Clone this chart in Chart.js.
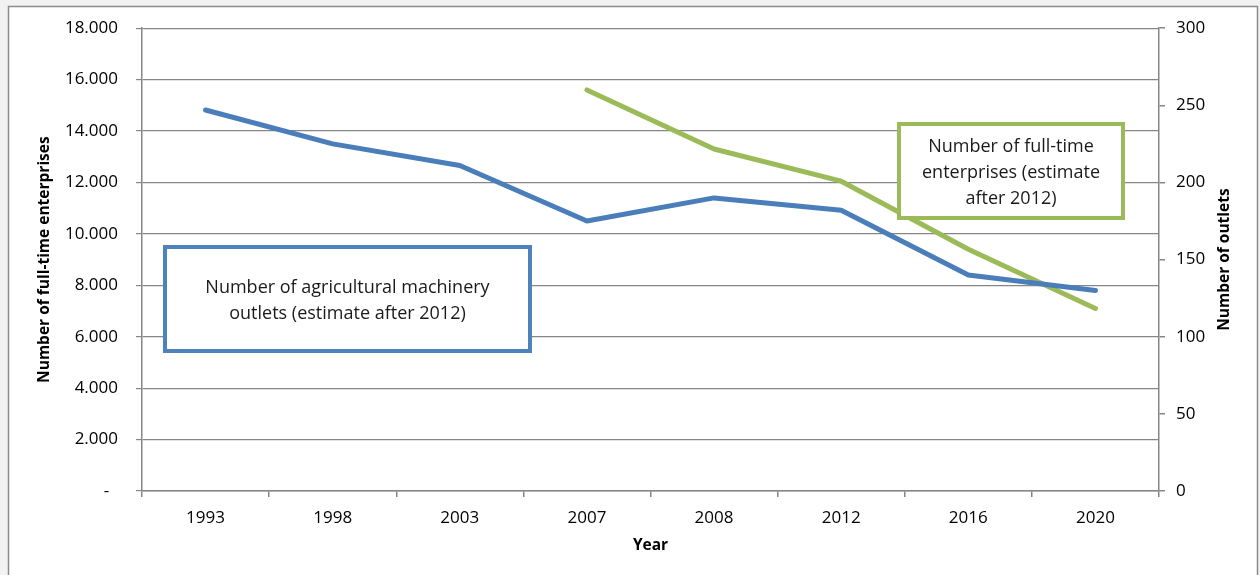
<!DOCTYPE html>
<html>
<head>
<meta charset="utf-8">
<script src="https://cdn.jsdelivr.net/npm/chart.js@4/dist/chart.umd.min.js"></script>
<style>
  html, body { margin: 0; padding: 0; background: #f2f2f2; }
  #wrap { position: relative; width: 1260px; height: 575px; }
</style>
</head>
<body>
<div id="wrap"><canvas id="dealerChart" width="1260" height="575"></canvas></div>
<script>
// Years on the category axis
const years = ['1993', '1998', '2003', '2007', '2008', '2012', '2016', '2020'];
// Agricultural machinery outlets (right axis)
const outlets = [247, 225, 211, 175, 190, 182, 140, 130];
// Full-time enterprises (left axis), series starts in 2007
const fullTimeEnterprises = [null, null, null, 15600, 13300, 12050, 9400, 7100];

const leftMax = 18000, leftStep = 2000;
const rightMax = 300, rightStep = 50;

const outletsNote = ['Number of agricultural machinery', 'outlets (estimate after 2012)'];
const enterprisesNote = ['Number of full-time', 'enterprises (estimate', 'after 2012)'];

const BLUE = '#4A7EBB';
const GREEN = '#9BBB59';
const AXIS_GRAY = '#868686';
const FONT = "'Open Sans', sans-serif";

Chart.defaults.font.family = FONT;
Chart.defaults.color = '#000';

// 18000 -> "18.000", zero shown as a dash like accounting format
function dotThousands(v) {
    if (v === 0) return '-  ';
    return String(v).replace(/\B(?=(\d{3})+(?!\d))/g, '.');
}

// frame around the whole chart
const frame = {
    id: 'frame',
    beforeDraw(chart) {
        const ctx = chart.ctx;
        ctx.save();
        ctx.fillStyle = '#ffffff';
        ctx.fillRect(8, 6, 1250, 575);
        ctx.strokeStyle = '#8c8c8c';
        ctx.lineWidth = 1.5;
        ctx.beginPath();
        ctx.moveTo(8.5, 580);
        ctx.lineTo(8.5, 6.5);
        ctx.lineTo(1257.5, 6.5);
        ctx.lineTo(1257.5, 580);
        ctx.stroke();
        ctx.restore();
    }
};

// axis titles (both vertical ones read bottom to top)
const axisTitles = {
    id: 'axisTitles',
    afterDraw(chart) {
        const ctx = chart.ctx;
        const area = chart.chartArea;
        const midY = (area.top + area.bottom) / 2;
        ctx.save();
        ctx.fillStyle = '#000';
        ctx.font = `bold 15.5px ${FONT}`;
        ctx.textAlign = 'center';
        ctx.textBaseline = 'middle';
        [[45, 'Number of full-time enterprises'], [1225, 'Number of outlets']].forEach(([x, text]) => {
            ctx.save();
            ctx.translate(x, midY);
            ctx.rotate(-Math.PI / 2);
            ctx.fillText(text, 0, 0);
            ctx.restore();
        });
        ctx.fillText('Year', (area.left + area.right) / 2, 546);
        ctx.restore();
    }
};

// text boxes naming each series
const noteBoxes = {
    id: 'noteBoxes',
    afterDatasetsDraw(chart) {
        const ctx = chart.ctx;
        const boxes = [
            { x: 165, y: 247, w: 365, h: 104, color: '#4F81BD', lines: outletsNote, base: 293 },
            { x: 899, y: 124, w: 224, h: 94, color: GREEN, lines: enterprisesNote, base: 152 }
        ];
        ctx.save();
        boxes.forEach(b => {
            ctx.fillStyle = '#ffffff';
            ctx.fillRect(b.x, b.y, b.w, b.h);
            ctx.strokeStyle = b.color;
            ctx.lineWidth = 4;
            ctx.strokeRect(b.x, b.y, b.w, b.h);
            ctx.fillStyle = '#1a1a1a';
            ctx.font = `18px ${FONT}`;
            ctx.textAlign = 'center';
            ctx.textBaseline = 'alphabetic';
            b.lines.forEach((line, i) => {
                ctx.fillText(line, b.x + b.w / 2, b.base + i * 26);
            });
        });
        ctx.restore();
    }
};

new Chart(document.getElementById('dealerChart').getContext('2d'), {
    type: 'line',
    data: {
        labels: years,
        datasets: [
            {
                label: 'Number of agricultural machinery outlets',
                data: outlets,
                yAxisID: 'y1',
                borderColor: BLUE,
                borderWidth: 5,
                borderCapStyle: 'round',
                borderJoinStyle: 'round',
                pointRadius: 0,
                tension: 0,
                fill: false
            },
            {
                label: 'Number of full-time enterprises',
                data: fullTimeEnterprises,
                yAxisID: 'y',
                borderColor: GREEN,
                borderWidth: 5,
                borderCapStyle: 'round',
                borderJoinStyle: 'round',
                pointRadius: 0,
                tension: 0,
                fill: false
            }
        ]
    },
    options: {
        responsive: false,
        animation: false,
        devicePixelRatio: 1,
        layout: { padding: { top: 27, left: 0, right: 0, bottom: 0 } },
        plugins: { legend: { display: false }, tooltip: { enabled: false } },
        scales: {
            x: {
                offset: true,
                grid: { offset: true, drawOnChartArea: false, tickLength: 6, color: AXIS_GRAY, lineWidth: 1.5 },
                border: { color: AXIS_GRAY, width: 1.5 },
                ticks: { padding: 11, font: { size: 17 }, color: '#000', maxRotation: 0 },
                afterFit: s => { s.height = 84; }
            },
            y: {
                position: 'left',
                min: 0,
                max: leftMax,
                grid: { color: AXIS_GRAY, lineWidth: 1.2, tickLength: 6 },
                border: { color: AXIS_GRAY, width: 1.5 },
                ticks: { stepSize: leftStep, padding: 18, font: { size: 17 }, color: '#000', callback: v => dotThousands(v) },
                afterFit: s => { s.width = 142; }
            },
            y1: {
                position: 'right',
                min: 0,
                max: rightMax,
                grid: { drawOnChartArea: false, color: AXIS_GRAY, tickLength: 6, lineWidth: 1.5 },
                border: { color: AXIS_GRAY, width: 1.5 },
                ticks: { stepSize: rightStep, padding: 11, font: { size: 17 }, color: '#000' },
                afterFit: s => { s.width = 101; }
            }
        }
    },
    plugins: [frame, noteBoxes, axisTitles]
});
</script>
</body>
</html>
